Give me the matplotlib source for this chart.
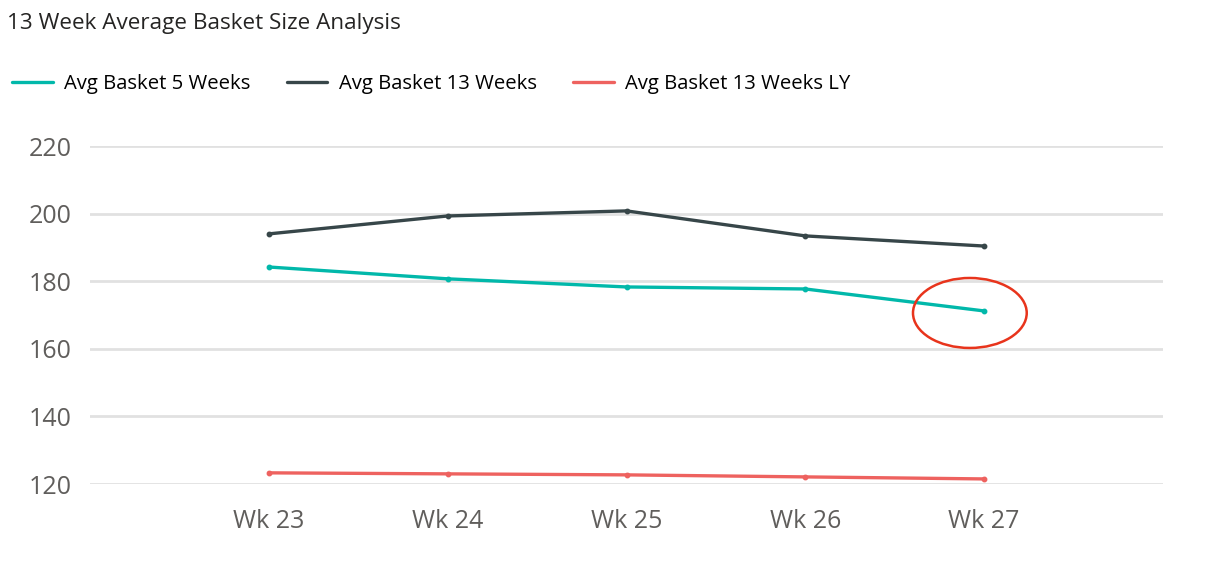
import matplotlib
matplotlib.use("Agg")
import matplotlib.pyplot as plt
from matplotlib.patches import Ellipse

plt.rcParams['font.family'] = ['Open Sans', 'DejaVu Sans']

weeks = ["Wk 23", "Wk 24", "Wk 25", "Wk 26", "Wk 27"]
avg_5wk = [184.2, 180.7, 178.3, 177.7, 171.2]
avg_13wk = [194.0, 199.3, 200.8, 193.4, 190.4]
avg_13wk_ly = [123.3, 123.0, 122.7, 122.1, 121.5]

TEAL = "#01B8AA"
DARK = "#374649"
RED = "#EE625F"
GRID = "#E1E1E1"
TICK = "#605E5C"

fig = plt.figure(figsize=(12.06, 5.79), dpi=100)
ax = fig.add_axes([90 / 1206, 1 - 484 / 579, (1163 - 90) / 1206, (484 - 146) / 579])

x = list(range(len(weeks)))
series = [
    (avg_5wk, TEAL, "Avg Basket 5 Weeks"),
    (avg_13wk, DARK, "Avg Basket 13 Weeks"),
    (avg_13wk_ly, RED, "Avg Basket 13 Weeks LY"),
]
for vals, col, lab in series:
    ax.plot(x, vals, color=col, lw=2.4, marker="o", ms=3.2, label=lab,
            solid_capstyle="round", clip_on=False, zorder=3)

ax.set_xlim(-1, len(weeks))
ax.set_ylim(120, 220)
ax.set_yticks([120, 140, 160, 180, 200, 220])
ax.set_xticks(x)
ax.set_xticklabels(weeks)
ax.grid(axis="y", color=GRID, lw=2)
ax.set_axisbelow(True)
for s in ax.spines.values():
    s.set_visible(False)
ax.tick_params(length=0, labelsize=18, labelcolor=TICK)
ax.tick_params(axis="y", pad=13)
ax.tick_params(axis="x", pad=18)

# highlight the last 5-week value
ax.add_patch(Ellipse((3.92, 170.6), 0.636, 20.7, fill=False,
                     edgecolor="#E8341C", lw=1.8, clip_on=False, zorder=4))

fig.text(7 / 1206, 1 - 24 / 579, "13 Week Average Basket Size Analysis",
         fontsize=16.2, color="#252423", va="center", ha="left")

fig.legend(loc="center left", bbox_to_anchor=(-6 / 1206, 1 - 84 / 579),
           ncol=3, frameon=False, fontsize=14.6, handlelength=2.0,
           handletextpad=0.55, columnspacing=1.8, markerscale=0)

fig.savefig("out.png", dpi=100)
